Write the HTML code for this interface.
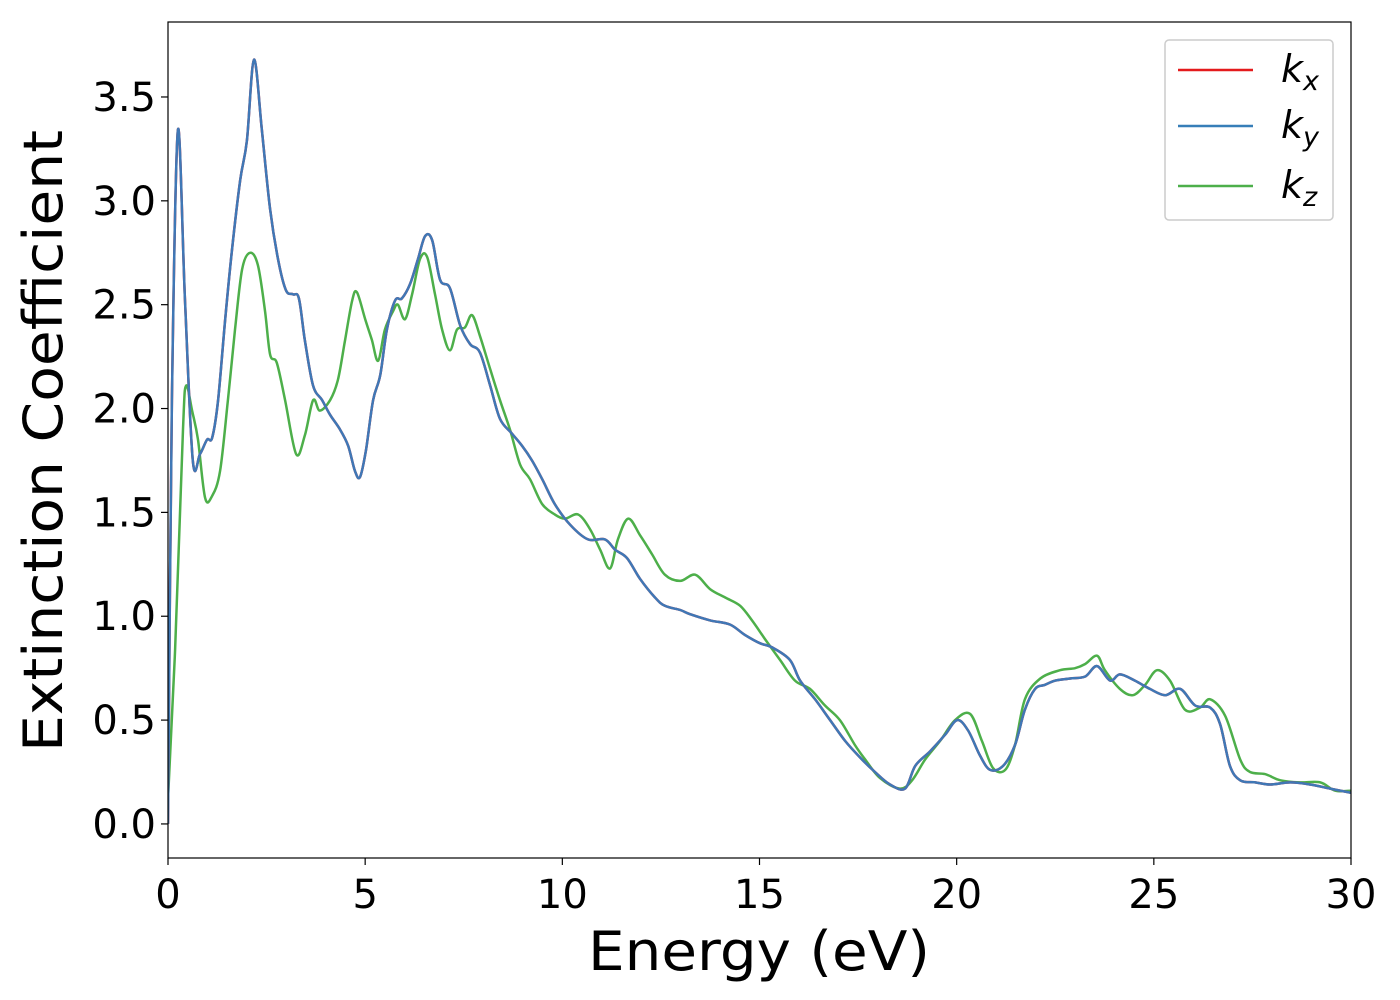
<!DOCTYPE html>
<html><head><meta charset="utf-8">
<style>
html,body{margin:0;padding:0;background:#fff;}
svg{display:block;font-family:"DejaVu Sans","Liberation Sans",sans-serif;}
</style></head>
<body>
<svg id="chart" width="1400" height="1000" viewBox="0 0 1400 1000" xmlns="http://www.w3.org/2000/svg">
<rect width="1400" height="1000" fill="#fff"/>
<g id="plot"></g>
<g id="axes"></g>
<text x="759" y="970" font-size="54" text-anchor="middle" textLength="342" lengthAdjust="spacingAndGlyphs" fill="#000">Energy (eV)</text>
<text transform="translate(62,441) rotate(-90)" font-size="54" text-anchor="middle" textLength="622" lengthAdjust="spacingAndGlyphs" fill="#000">Extinction Coefficient</text>
<g>
<rect x="1165" y="40" width="168" height="180" rx="4" fill="#fff" stroke="#ccc" stroke-width="1.5"/>
<line x1="1178" y1="70" x2="1253" y2="70" stroke="#e41a1c" stroke-width="2.5"/>
<text x="1281" y="82" font-size="38" font-style="italic">k<tspan font-size="27" dy="8">x</tspan></text>
<line x1="1178" y1="126" x2="1253" y2="126" stroke="#377eb8" stroke-width="2.5"/>
<text x="1281" y="138" font-size="38" font-style="italic">k<tspan font-size="27" dy="8">y</tspan></text>
<line x1="1178" y1="186" x2="1253" y2="186" stroke="#4daf4a" stroke-width="2.5"/>
<text x="1281" y="198" font-size="38" font-style="italic">k<tspan font-size="27" dy="8">z</tspan></text>
</g>
</svg>
<script>
const xyEnergy=[0,0.10,0.25,0.43,0.63,0.81,0.99,1.12,1.27,1.45,1.62,1.83,2.00,2.18,2.38,2.59,2.79,2.99,3.17,3.32,3.47,3.68,3.91,4.11,4.36,4.57,4.74,4.87,5.02,5.20,5.38,5.55,5.76,5.93,6.14,6.34,6.52,6.70,6.90,7.15,7.41,7.66,7.91,8.17,8.42,8.72,8.98,9.23,9.49,9.81,10.20,10.65,11.08,11.34,11.64,11.97,12.35,12.60,12.99,13.24,13.75,14.25,14.63,15.01,15.32,15.77,16.03,16.41,16.79,17.17,17.55,17.93,18.31,18.69,18.95,19.33,19.71,20.01,20.29,20.59,20.85,21.18,21.48,21.73,21.99,22.24,22.50,22.88,23.26,23.56,23.89,24.14,24.52,24.90,25.29,25.67,26.05,26.43,26.68,26.93,27.19,27.57,27.95,28.46,28.96,29.47,30];
const kxValues=[0,2.04,3.34,2.52,1.75,1.78,1.85,1.86,2.04,2.43,2.76,3.10,3.29,3.68,3.34,2.96,2.72,2.57,2.55,2.53,2.33,2.11,2.04,1.97,1.90,1.82,1.70,1.67,1.80,2.04,2.16,2.38,2.52,2.53,2.60,2.72,2.83,2.81,2.62,2.58,2.40,2.31,2.27,2.11,1.95,1.88,1.82,1.75,1.66,1.54,1.44,1.37,1.37,1.32,1.28,1.18,1.09,1.05,1.03,1.01,0.98,0.96,0.91,0.87,0.85,0.79,0.69,0.60,0.50,0.40,0.32,0.25,0.19,0.17,0.28,0.35,0.43,0.50,0.45,0.33,0.26,0.28,0.38,0.55,0.65,0.67,0.69,0.70,0.71,0.76,0.69,0.72,0.69,0.65,0.62,0.65,0.57,0.56,0.48,0.28,0.21,0.20,0.19,0.20,0.19,0.17,0.15];
const kyValues=kxValues.slice();
const zEnergy=[0,0.18,0.38,0.46,0.61,0.76,0.94,1.12,1.32,1.52,1.70,1.88,2.08,2.28,2.46,2.59,2.76,2.97,3.25,3.47,3.68,3.85,4.11,4.31,4.49,4.67,4.79,5.00,5.17,5.33,5.50,5.71,5.83,6.01,6.19,6.39,6.57,6.77,6.95,7.15,7.33,7.53,7.71,7.91,8.17,8.42,8.67,8.93,9.18,9.49,9.81,10.07,10.40,10.70,10.96,11.21,11.41,11.67,11.97,12.27,12.60,12.99,13.37,13.75,14.13,14.51,14.81,15.14,15.52,15.90,16.28,16.66,17.04,17.42,17.68,18.06,18.56,18.87,19.20,19.58,19.96,20.34,20.64,20.92,21.23,21.48,21.73,22.12,22.62,23.00,23.26,23.56,23.76,24.14,24.47,24.78,25.08,25.41,25.79,26.17,26.43,26.81,27.19,27.44,27.82,28.21,28.71,29.22,29.60,30];
const kzValues=[0.12,0.84,1.90,2.11,1.99,1.85,1.57,1.58,1.70,2.04,2.38,2.67,2.75,2.69,2.47,2.26,2.22,2.04,1.78,1.87,2.04,1.99,2.04,2.14,2.33,2.52,2.56,2.43,2.33,2.23,2.38,2.47,2.50,2.43,2.55,2.72,2.73,2.55,2.38,2.28,2.38,2.39,2.45,2.35,2.19,2.04,1.90,1.73,1.66,1.54,1.49,1.47,1.49,1.42,1.32,1.23,1.37,1.47,1.39,1.30,1.20,1.17,1.20,1.13,1.09,1.05,0.98,0.89,0.79,0.69,0.65,0.57,0.50,0.38,0.31,0.22,0.17,0.21,0.31,0.40,0.50,0.53,0.40,0.27,0.26,0.38,0.60,0.70,0.74,0.75,0.77,0.81,0.74,0.65,0.62,0.67,0.74,0.69,0.55,0.56,0.60,0.52,0.31,0.25,0.24,0.21,0.20,0.20,0.16,0.16];
const xTicks=[0,5,10,15,20,25,30];
const yTicks=[0,0.5,1.0,1.5,2.0,2.5,3.0,3.5];
const yTickLabels=["0.0","0.5","1.0","1.5","2.0","2.5","3.0","3.5"];

const L=168,R=1351,T=22,B=858;
const xMin=0,xMax=30,yMin=-0.164,yMax=3.861;
const sx=v=>L+(v-xMin)/(xMax-xMin)*(R-L);
const sy=v=>B-(v-yMin)/(yMax-yMin)*(B-T);
const NS="http://www.w3.org/2000/svg";
const plot=document.getElementById('plot'), axes=document.getElementById('axes');
function mk(tag,attrs,parent){const e=document.createElementNS(NS,tag);for(const k in attrs)e.setAttribute(k,attrs[k]);parent.appendChild(e);return e;}
function pathD(xs,ys){
  const p=xs.map((x,i)=>[sx(x),sy(ys[i])]);
  let d='M'+p[0][0].toFixed(1)+','+p[0][1].toFixed(1);
  for(let i=0;i<p.length-1;i++){
    const p0=p[Math.max(0,i-1)],p1=p[i],p2=p[i+1],p3=p[Math.min(p.length-1,i+2)];
    const c1=[p1[0]+(p2[0]-p0[0])/6,p1[1]+(p2[1]-p0[1])/6];
    const c2=[p2[0]-(p3[0]-p1[0])/6,p2[1]-(p3[1]-p1[1])/6];
    d+='C'+c1[0].toFixed(1)+','+c1[1].toFixed(1)+' '+c2[0].toFixed(1)+','+c2[1].toFixed(1)+' '+p2[0].toFixed(1)+','+p2[1].toFixed(1);
  }
  return d;
}
const clip=mk('clipPath',{id:'pc'},plot);mk('rect',{x:L,y:T,width:R-L,height:B-T},clip);
const g=mk('g',{'clip-path':'url(#pc)'},plot);
const lz=mk('path',{d:pathD(zEnergy,kzValues),fill:'none',stroke:'#4daf4a','stroke-width':2.5},g);


const lx=mk('path',{d:pathD(xyEnergy,kxValues),fill:'none',stroke:'#e41a1c','stroke-width':2.5},g);


const ly=mk('path',{d:pathD(xyEnergy,kyValues),fill:'none',stroke:'#3f78b6','stroke-width':2.5},g);


const frame=mk('rect',{x:L,y:T,width:R-L,height:B-T,fill:'none',stroke:'#000','stroke-width':1.2},axes);


xTicks.forEach(v=>{
  const t=mk('line',{x1:sx(v),x2:sx(v),y1:B,y2:B+7,stroke:'#000','stroke-width':1.2},axes);
  
  
  const l=mk('text',{x:sx(v),y:B+50,'font-size':40,'text-anchor':'middle'},axes);l.textContent=String(v);
  
  
});
yTicks.forEach((v,i)=>{
  const t=mk('line',{x1:L-7,x2:L,y1:sy(v),y2:sy(v),stroke:'#000','stroke-width':1.2},axes);
  
  
  const l=mk('text',{x:L-12,y:sy(v)+14,'font-size':40,'text-anchor':'end'},axes);l.textContent=yTickLabels[i];
  
  
});
</script>
</body></html>
